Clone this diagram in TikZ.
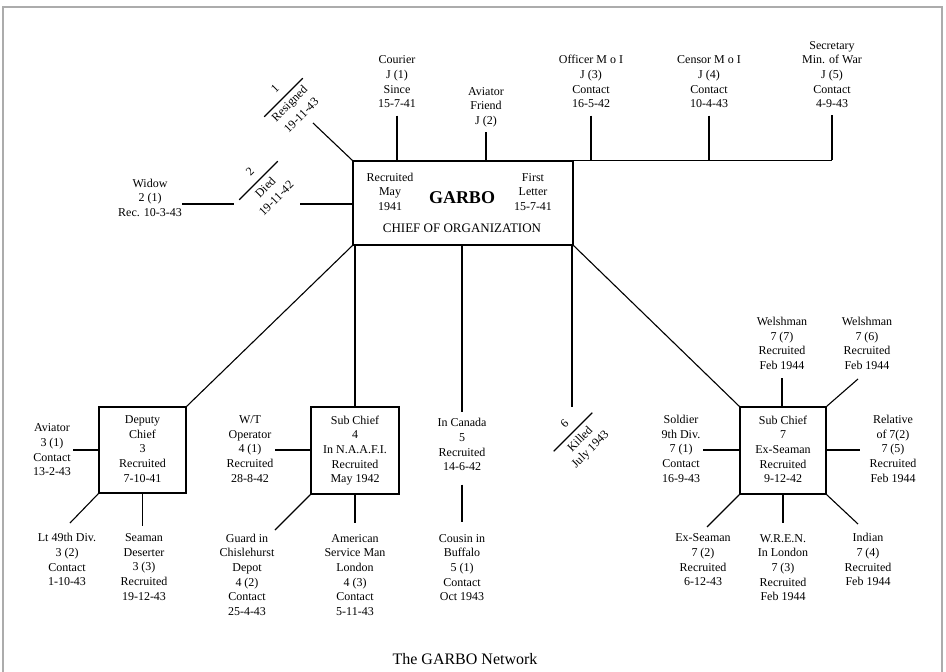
\documentclass[tikz,border=0pt]{standalone}
\usepackage{fontspec}
\setmainfont{Liberation Serif}
\usetikzlibrary{calc}
\newcommand\lblfont{\fontsize{12}{14.7}\selectfont}
\tikzset{
  lbl/.style={align=center, inner sep=0pt, font=\lblfont},
  orgbox/.style={draw, line width=1.3pt, inner sep=0pt, align=center, font=\lblfont},
  conn/.style={line width=1.1pt},
  cuttext/.style={inner sep=0pt, font=\lblfont, rotate=45},
}
\newcommand\cutmark[6]{%
  \coordinate (#1) at (#2,#3);
  \draw[conn] ($(#1)+(-19.3,19.3)$) -- ($(#1)+(19.3,-19.3)$);
  \node[cuttext] (#1n) at ($(#1)+(-8.5,-8.5)$) {#4};
  \node[cuttext] (#1a) at ($(#1)+(6.7,6.7)$) {#5};
  \node[cuttext] (#1b) at ($(#1)+(17.7,17.7)$) {#6};
}
\begin{document}
\begin{tikzpicture}[x=1pt,y=-1pt]
\useasboundingbox (0,0) rectangle (946,672);
% frame
\draw[gray!65, line width=1.6pt] (3,672) -- (3,7) -- (942,7) -- (942,672);

% GARBO box
\node[draw, line width=1.4pt, minimum width=220pt, minimum height=84pt, inner sep=0pt] (garbo) at (463,203) {};
\node[lbl] (rec) at (390,193) {\strut Recruited\\May\\1941\strut};
\node[inner sep=0pt, font=\bfseries\fontsize{18}{20}\selectfont] (gname) at (462,198) {GARBO};
\node[lbl] (first) at (533,193) {\strut First\\Letter\\15-7-41\strut};
\node[inner sep=0pt, font=\fontsize{13}{15}\selectfont] (chief) at (462,228) {CHIEF OF ORGANIZATION};

% top row
\node[lbl] (courier) at (397,83) {\strut Courier\\J (1)\\Since\\15-7-41\strut};
\node[lbl] (aviatorf) at (486,107) {\strut Aviator\\Friend\\J (2)\strut};
\node[lbl] (officer) at (591,83) {\strut Officer M o I\\J (3)\\Contact\\16-5-42\strut};
\node[lbl] (censor) at (709,83) {\strut Censor M o I\\J (4)\\Contact\\10-4-43\strut};
\node[lbl] (secretary) at (832,75.5) {\strut Secretary\\Min. of War\\J (5)\\Contact\\4-9-43\strut};

\draw[conn, shorten <=3pt] (courier.south) -- (courier.south |- garbo.north);
\draw[conn, shorten <=3pt] (aviatorf.south) -- (aviatorf.south |- garbo.north);
\draw[conn, shorten <=3pt] (officer.south) -- (officer.south |- garbo.north);
\draw[conn, shorten <=3pt] (censor.south) -- (censor.south |- garbo.north);
\draw[conn, shorten <=3pt] (secretary.south) -- (secretary.south |- garbo.north);
\draw[conn] (garbo.north east) -- (secretary.south |- garbo.north);

% left of GARBO
\node[lbl] (widow) at (150,199) {\strut Widow\\2 (1)\\Rec. 10-3-43\strut};
\cutmark{resign}{283.5}{97.5}{1}{Resigned}{19-11-43}
\cutmark{died}{258.5}{180.5}{2}{Died}{19-11-42}
\coordinate (resE) at (313,123);
\draw[conn] (resE) -- (garbo.north west);
\coordinate (diedL) at (234,204);
\coordinate (diedR) at (300,204);
\draw[conn] (widow.east |- diedL) -- (diedL);
\draw[conn] (diedR) -- (diedR -| garbo.west);

% sub boxes
\node[orgbox, minimum width=87pt, minimum height=86pt] (deputy) at (142.5,450) {\strut Deputy\\Chief\\3\\Recruited\\7-10-41\strut};
\node[orgbox, minimum width=88pt, minimum height=87pt] (sub4) at (355,450.5) {\strut Sub Chief\\4\\In N.A.A.F.I.\\Recruited\\May 1942\strut};
\node[orgbox, minimum width=86pt, minimum height=87pt] (sub7) at (783,450.5) {\strut Sub Chief\\7\\Ex-Seaman\\Recruited\\9-12-42\strut};

\draw[conn] (garbo.south west) -- (deputy.north east);
\draw[conn] (garbo.south west -| sub4.north) -- (sub4.north);
\draw[conn] (garbo.south east) -- (sub7.north west);

% Canada branch
\node[lbl] (canada) at (462,446) {\strut In Canada\\5\\Recruited\\14-6-42\strut};
\node[lbl] (cousin) at (462,568.5) {\strut Cousin in\\Buffalo\\5 (1)\\Contact\\Oct 1943\strut};
\draw[conn, shorten >=4.5pt] (garbo.south -| canada.north) -- (canada.north);
\draw[conn, shorten <=9pt, shorten >=9.5pt] (canada.south) -- (cousin.north);

% Killed
\coordinate (killT) at (572,407);
\draw[conn] (killT |- garbo.south) -- (killT);
\cutmark{killed}{573}{432}{6}{Killed}{July 1943}

% Deputy cluster
\node[lbl] (av3) at (52,451) {\strut Aviator\\3 (1)\\Contact\\13-2-43\strut};
\node[lbl] (lt) at (67,561) {\strut Lt 49th Div.\\3 (2)\\Contact\\1-10-43\strut};
\node[lbl] (seaman) at (144,568) {\strut Seaman\\Deserter\\3 (3)\\Recruited\\19-12-43\strut};
\coordinate (av3E) at (73,450);
\coordinate (ltE) at (70,523);
\coordinate (seaE) at (143,526);
\draw[conn] (av3E) -- (av3E -| deputy.west);
\draw[conn] (deputy.south west) -- (ltE);
\draw[conn] (deputy.south) -- (deputy.south |- seaE);

% Sub chief 4 cluster
\node[lbl] (wt) at (250,450) {\strut W/T\\Operator\\4 (1)\\Recruited\\28-8-42\strut};
\node[lbl] (guard) at (247,576) {\strut Guard in\\Chislehurst\\Depot\\4 (2)\\Contact\\25-4-43\strut};
\node[lbl] (american) at (355,576) {\strut American\\Service Man\\London\\4 (3)\\Contact\\5-11-43\strut};
\coordinate (wtE) at (275,450);
\coordinate (guardE) at (275,530);
\coordinate (amE) at (355,523);
\draw[conn] (wtE) -- (wtE -| sub4.west);
\draw[conn] (sub4.south west) -- (guardE);
\draw[conn] (sub4.south) -- (amE);

% Sub chief 7 cluster
\node[lbl] (w77) at (782,344.5) {\strut Welshman\\7 (7)\\Recruited\\Feb 1944\strut};
\node[lbl] (w76) at (867,344.5) {\strut Welshman\\7 (6)\\Recruited\\Feb 1944\strut};
\node[lbl] (soldier) at (681,450) {\strut Soldier\\9th Div.\\7 (1)\\Contact\\16-9-43\strut};
\node[lbl] (relative) at (893,450) {\strut Relative\\of 7(2)\\7 (5)\\Recruited\\Feb 1944\strut};
\node[lbl] (exseaman) at (703,561) {\strut Ex-Seaman\\7 (2)\\Recruited\\6-12-43\strut};
\node[lbl] (wren) at (783,568.5) {\strut W.R.E.N.\\In London\\7 (3)\\Recruited\\Feb 1944\strut};
\node[lbl] (indian) at (868,561) {\strut Indian\\7 (4)\\Recruited\\Feb 1944\strut};
\coordinate (w76E) at (858,379);
\coordinate (solE) at (703,450);
\coordinate (relE) at (860,450);
\coordinate (exE) at (707,527);
\coordinate (wrenE) at (783,523);
\coordinate (indE) at (858,524);
\draw[conn, shorten <=4pt] (w77.south) -- (w77.south |- sub7.north);
\draw[conn] (sub7.north east) -- (w76E);
\draw[conn] (solE) -- (solE -| sub7.west);
\draw[conn] (sub7.east |- relE) -- (relE);
\draw[conn] (sub7.south west) -- (exE);
\draw[conn] (sub7.south) -- (wrenE);
\draw[conn] (sub7.south east) -- (indE);

% title
\node[inner sep=0pt, font=\fontsize{16}{18}\selectfont] (title) at (465,659) {The GARBO Network};
\end{tikzpicture}
\end{document}
